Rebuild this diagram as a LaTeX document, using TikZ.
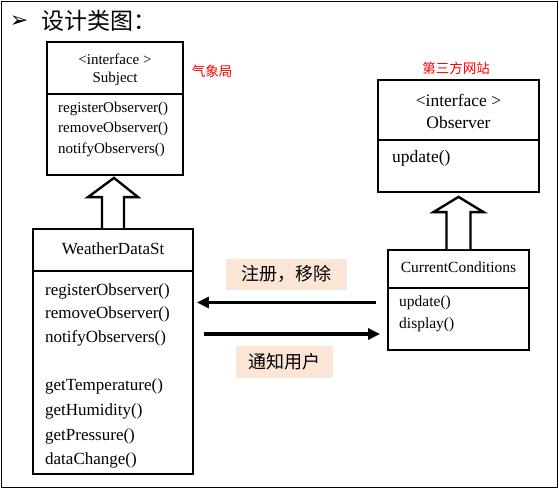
\documentclass[tikz,border=0pt]{standalone}
\usepackage{fontspec}
\setmainfont{Liberation Serif}
\newfontfamily\cjk{Noto Sans CJK SC}
\newfontfamily\dingfont{DejaVu Sans}
\usetikzlibrary{calc, positioning, arrows.meta}
\definecolor{notebg}{HTML}{FBE5D6}

\tikzset{
  classbox/.style={draw, line width=1.8pt, inner sep=0pt},
  method/.style={anchor=west, inner sep=0pt},
  hollow/.style={draw, line width=2.4pt, fill=white, line join=miter},
  msgarrow/.style={line width=3.6pt, -{Triangle[length=12pt,width=11pt]}},
  notebox/.style={fill=notebg, inner sep=0pt, font=\cjk\fontsize{18}{18}\selectfont},
  redtag/.style={text=red, inner sep=0pt, font=\cjk\fontsize{13.5}{13.5}\selectfont}
}

\begin{document}
\begin{tikzpicture}[x=1pt, y=-1pt]
        \useasboundingbox (0,0) rectangle (559,488);
        \draw[line width=1pt] (1,1) rectangle (557,487);

        % title
        \node[inner sep=0pt] (bullet) at (19,22) {\dingfont\fontsize{22}{22}\selectfont ➢};
        \node[anchor=west, inner sep=0pt] (title) at (41,21) {\cjk\fontsize{23}{23}\selectfont 设计类图：};

        % Subject
        \node[classbox, minimum width=136pt, minimum height=133pt] (subject) at (115,108.5) {};
        \draw[line width=1.8pt] (47,94) -- (183,94);
        \node[redtag] (qxj) at (212,71) {气象局};
        \begin{scope}[font=\fontsize{15}{15}\selectfont]
            \node (subjIf) at (115,59) {<interface >};
            \node (subjName) at (115,79) {Subject};
            \foreach \m/\y [count=\i] in {registerObserver()/109, removeObserver()/129, notifyObservers()/150}
                \node[method] (subjM\i) at (58,\y) {\m};
        \end{scope}

        % Observer
        \node[classbox, minimum width=161pt, minimum height=112pt] (observer) at (458.5,136) {};
        \draw[line width=1.8pt] (378,140) -- (539,140);
        \node[redtag] (dsf) at (456,68) {第三方网站};
        \begin{scope}[font=\fontsize{17.5}{17.5}\selectfont]
            \node (obsIf) at (458.5,100) {<interface >};
            \node (obsName) at (458.5,123) {Observer};
            \node[method] (obsM1) at (392,158) {update()};
        \end{scope}

        % WeatherDataSt
        \node[classbox, minimum width=160pt, minimum height=245pt] (weather) at (113,351.5) {};
        \draw[line width=1.8pt] (33,271) -- (193,271);
        \begin{scope}[font=\fontsize{17}{17}\selectfont]
            \node (wdName) at (113,249) {WeatherDataSt};
            \foreach \m/\y [count=\i] in {registerObserver()/291, removeObserver()/314, notifyObservers()/338,
                                          getTemperature()/386, getHumidity()/411, getPressure()/436, dataChange()/460}
                \node[method] (wdM\i) at (45,\y) {\m};
        \end{scope}

        % CurrentConditions
        \node[classbox, minimum width=141pt, minimum height=100pt] (cc) at (458.5,300) {};
        \draw[line width=1.8pt] (388,288) -- (529,288);
        \begin{scope}[font=\fontsize{15.5}{15.5}\selectfont]
            \node (ccName) at (458.5,267) {CurrentConditions};
            \node[method] (ccM1) at (399,303) {update()};
            \node[method] (ccM2) at (399,325) {display()};
        \end{scope}

        % hollow arrows
        \draw[hollow] ($(weather.north)+(-11,0)$) -- ++(0,-31) -- ++(-14,0) -- ($(subject.south)+(-1,2)$)
                      -- ($(weather.north)+(25,-31)$) -- ++(-14,0) -- ($(weather.north)+(11,0)$);
        \draw[hollow] ($(cc.north)+(-12,0)$) -- ++(0,-37) -- ++(-13,0) -- ($(observer.south)+(0,4)$)
                      -- ($(cc.north)+(25,-37)$) -- ++(-13,0) -- ($(cc.north)+(12,0)$);

        % messages
        \draw[msgarrow] ($(cc.west)+(-11,2.5)$) -- ($(cc.west -| weather.east)+(3,2.5)$)
            node[midway, above=11pt, notebox, minimum width=121pt, minimum height=31pt] (reg) {注册，移除};
        \draw[msgarrow] ($(cc.west -| weather.east)+(10,34)$) -- ($(cc.west)+(-7,34)$)
            node[midway, below=10pt, xshift=-8pt, notebox, minimum width=97pt, minimum height=32pt] (notify) {通知用户};
\end{tikzpicture}
\end{document}
